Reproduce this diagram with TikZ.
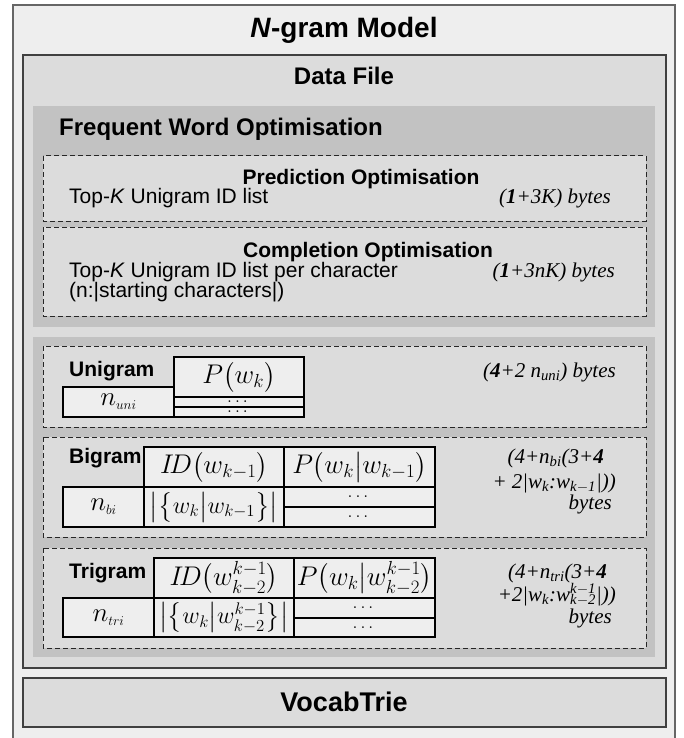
\RequirePackage{fix-cm}
\documentclass[tikz,border=0pt]{standalone}
\usepackage{amsmath}
\usepackage{fontspec}
\setmainfont{Liberation Sans}
\newfontfamily\bytesfont{Liberation Serif}
\definecolor{outergray}{HTML}{EEEEEE}
\definecolor{filegray}{HTML}{DCDCDC}
\definecolor{panelgray}{HTML}{C2C2C2}
\definecolor{cellgray}{HTML}{EEEEEE}
\tikzset{
  boxframe/.style={draw=black!75, line width=1.5pt, fill=filegray},
  panel/.style={fill=panelgray},
  optbox/.style={draw=black!85, dash pattern=on 5pt off 3pt, line width=1pt, fill=filegray},
  cell/.style={draw=black, line width=1.1pt, fill=cellgray, inner sep=0pt, font=\fontsize{27}{34}\selectfont},
  setcell/.style={cell, font=\fontsize{24}{32}\selectfont},
  dotcell/.style={cell, font=\fontsize{18}{18}\selectfont},
  heading/.style={font=\fontsize{24}{28}\selectfont\bfseries, inner sep=0pt, anchor=base},
  subheading/.style={font=\fontsize{21}{24}\selectfont\bfseries, inner sep=0pt, anchor=base},
  gramname/.style={subheading, anchor=base west},
  desc/.style={font=\fontsize{21}{24}\selectfont, inner sep=0pt, anchor=base west},
  bytecount/.style={font=\fontsize{21}{24}\bytesfont\itshape, inner sep=0pt, anchor=base east}
}
\begin{document}
\begin{tikzpicture}[x=1pt,y=-1pt]
\useasboundingbox (0,0) rectangle (683,738);
\draw[fill=outergray, draw=black!60, line width=1.5pt] (13,5) rectangle (675,760);
\node[heading, font=\fontsize{28}{32}\selectfont\bfseries] (title) at (344,38) {\textit{N}-gram Model};

\draw[boxframe] (23,55) rectangle (666,668);
\node[heading] (datafile) at (344,85) {Data File};

\fill[panel] (33,106) rectangle (655,327);
\node[heading, anchor=base west] (freqword) at (59,136) {Frequent Word Optimisation};
\draw[optbox] (43,156) rectangle (646,221);
\node[subheading] (predopt) at (361,184) {Prediction Optimisation};
\node[desc] (predlist) at (69,204) {Top-\textit{K} Unigram ID list};
\node[bytecount] (predbytes) at (611,204) {(\textbf{1}+3K) bytes};
\draw[optbox] (43,227) rectangle (646,316);
\node[subheading] (compopt) at (368,257) {Completion Optimisation};
\node[desc] (complist) at (69,277) {Top-\textit{K} Unigram ID list per character};
\node[desc] (compchars) at (69,297) {(n:|starting characters|)};
\node[bytecount] (compbytes) at (615,277) {(\textbf{1}+3nK) bytes};

\fill[panel] (33,337) rectangle (655,657);
\draw[optbox] (43,346) rectangle (646,427);
\node[gramname] (uniname) at (69,376) {Unigram};
\node[cell, minimum width=130pt, minimum height=40pt] (unip) at (239,377) {$P\bigl(w_k\bigr)$};
\node[cell, minimum width=111pt, minimum height=30pt] (unin) at (118.5,402) {$n_{\scriptscriptstyle uni}$};
\node[dotcell, minimum width=130pt, minimum height=10pt] (unirowa) at (239,402) {$\dots$};
\node[dotcell, minimum width=130pt, minimum height=10pt] (unirowb) at (239,412) {$\dots$};
\node[bytecount] (unibytes) at (616,377) {(\textbf{4}+2 n\textsubscript{uni}) bytes};

\draw[optbox] (43,437) rectangle (646,537);
\node[gramname] (biname) at (69,463) {Bigram};
\node[cell, minimum width=140pt, minimum height=40pt] (biid) at (214,467) {$I\!D\bigl(w_{k-1}\bigr)$};
\node[cell, minimum width=151pt, minimum height=40pt] (bip) at (359.5,467) {$P\bigl(w_k\big|w_{k-1}\bigr)$};
\node[cell, minimum width=81pt, minimum height=40pt] (bin) at (103.5,507) {$n_{\scriptscriptstyle bi}$};
\node[setcell, minimum width=140pt, minimum height=40pt] (biset) at (214,507) {$\bigl|\bigl\{w_k\big|w_{k-1}\bigr\}\bigr|$};
\node[dotcell, minimum width=151pt, minimum height=20pt] (birowa) at (359.5,497) {$\dots$};
\node[dotcell, minimum width=151pt, minimum height=20pt] (birowb) at (359.5,517) {$\dots$};
\node[bytecount] (bibytesa) at (604,463) {(4+n\textsubscript{bi}(3+\textbf{4}};
\node[bytecount] (bibytesb) at (616,488) {+ 2|w\textsubscript{k}:w\textsubscript{k$-$1}|))};
\node[bytecount] (bibytesc) at (612,509) {bytes};

\draw[optbox] (43,548) rectangle (646,648);
\node[gramname] (triname) at (69,578) {Trigram};
\node[cell, minimum width=140pt, minimum height=40pt] (triid) at (224,578) {$I\!D\bigl(w^{k-1}_{k-2}\bigr)$};
\node[cell, minimum width=141pt, minimum height=40pt] (trip) at (364.5,578) {$P\bigl(w_k\big|w^{k-1}_{k-2}\bigr)$};
\node[cell, minimum width=91pt, minimum height=39pt] (trin) at (108.5,617.5) {$n_{\scriptscriptstyle tri}$};
\node[setcell, minimum width=140pt, minimum height=39pt] (triset) at (224,617.5) {$\bigl|\bigl\{w_k\big|w^{k-1}_{k-2}\bigr\}\bigr|$};
\node[dotcell, minimum width=141pt, minimum height=20pt] (trirowa) at (364.5,608) {$\dots$};
\node[dotcell, minimum width=141pt, minimum height=19pt] (trirowb) at (364.5,627.5) {$\dots$};
\node[bytecount] (tribytesa) at (607,578) {(4+n\textsubscript{tri}(3+\textbf{4}};
\node[bytecount] (tribytesb) at (616,601) {+2|w\textsubscript{k}:w\rlap{\textsuperscript{k$-$1}}\textsubscript{k$-$2}|))};
\node[bytecount] (tribytesc) at (612,623) {bytes};

\draw[boxframe] (23,678) rectangle (666,727);
\node[heading, font=\fontsize{27}{30}\selectfont\bfseries] (vocabtrie) at (344,711) {VocabTrie};
\end{tikzpicture}
\end{document}
